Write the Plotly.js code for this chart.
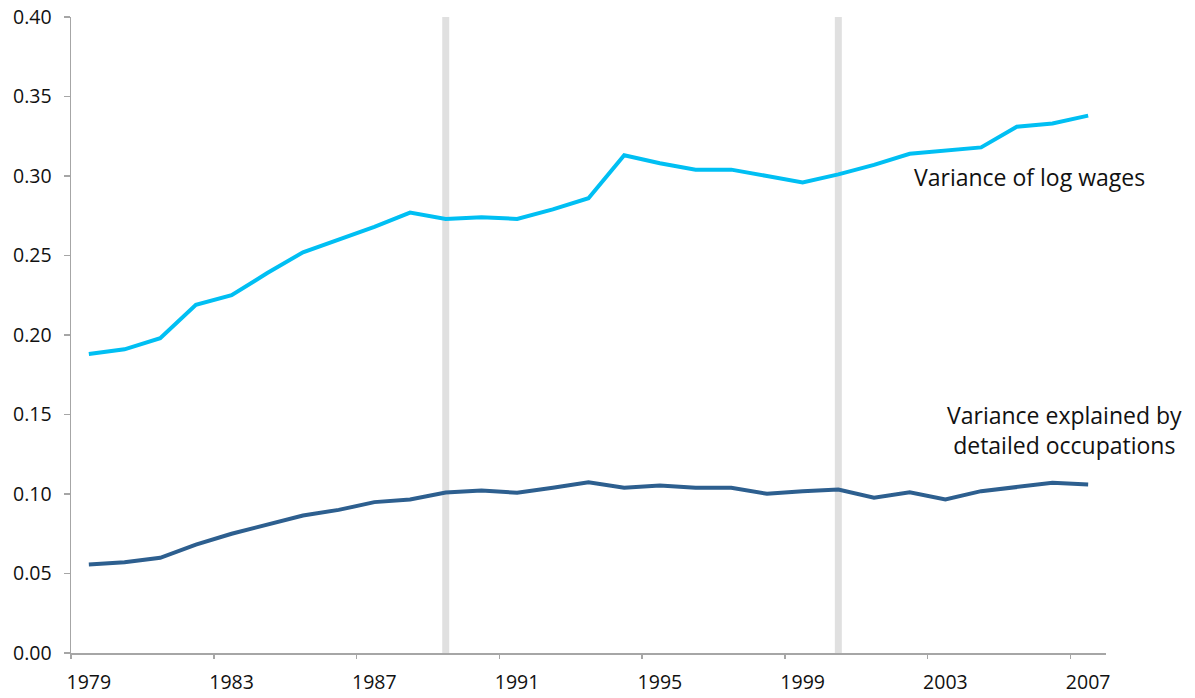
<!DOCTYPE html>
<html>
<head>
<meta charset="utf-8">
<script src="https://cdn.plot.ly/plotly-3.0.1.min.js"></script>
<style>html,body{margin:0;padding:0;background:#fff;}#chart{width:1195px;height:698px;}</style>
</head>
<body>
<div id="chart"></div>
<script>
const years = [1979,1980,1981,1982,1983,1984,1985,1986,1987,1988,1989,1990,1991,1992,1993,1994,1995,1996,1997,1998,1999,2000,2001,2002,2003,2004,2005,2006,2007];
const varianceLogWages = [0.188,0.191,0.198,0.219,0.225,0.239,0.252,0.260,0.268,0.277,0.273,0.274,0.273,0.279,0.286,0.313,0.308,0.304,0.304,0.300,0.296,0.301,0.307,0.314,0.316,0.318,0.331,0.333,0.338];
const varianceOccupations = [0.0557,0.0571,0.0599,0.0682,0.0750,0.0808,0.0865,0.0900,0.0949,0.0965,0.1009,0.1022,0.1008,0.1039,0.1074,0.1039,0.1053,0.1039,0.1039,0.1001,0.1018,0.1028,0.0976,0.1011,0.0965,0.1018,0.1047,0.1070,0.1060];
const cycleYears = [1989, 2000];
const xTickLabels = [1979,1983,1987,1991,1995,1999,2003,2007];
const yTicks = [0,0.05,0.10,0.15,0.20,0.25,0.30,0.35,0.40];

const FONT = '"Open Sans", "Noto Sans", sans-serif';
const AXIS_COLOR = '#a6a6a6';
const TEXT_COLOR = '#111111';

const traces = [
  {x: years, y: varianceLogWages, type: 'scatter', mode: 'lines', name: 'Variance of log wages',
   line: {color: '#00bff3', width: 4}, hoverinfo: 'x+y'},
  {x: years, y: varianceOccupations, type: 'scatter', mode: 'lines', name: 'Variance explained by detailed occupations',
   line: {color: '#2d5f8f', width: 4}, hoverinfo: 'x+y'}
];

const shapes = cycleYears.map(yr => ({
  type: 'line', xref: 'x', yref: 'paper', x0: yr, x1: yr, y0: 0, y1: 1,
  line: {color: '#e0e0e0', width: 7}, layer: 'below'
}));

const layout = {
  width: 1195, height: 698,
  margin: {l: 71, r: 89, t: 17, b: 45},
  paper_bgcolor: '#ffffff', plot_bgcolor: '#ffffff',
  showlegend: false,
  font: {family: FONT, size: 19, color: TEXT_COLOR},
  xaxis: {
    range: [years[0] - 0.5, years[years.length - 1] + 0.5],
    tickvals: xTickLabels, ticktext: xTickLabels.map(String),
    ticks: '', showgrid: false, zeroline: false,
    showline: true, linecolor: AXIS_COLOR, linewidth: 1.5,
    tickfont: {family: FONT, size: 19.5, color: TEXT_COLOR},
    ticklabelstandoff: 11
  },
  xaxis2: {
    overlaying: 'x', anchor: 'y', side: 'bottom',
    range: [years[0] - 0.5, years[years.length - 1] + 0.5],
    tickvals: xTickLabels.map(v => v - 0.5),
    showticklabels: false, ticks: 'outside', ticklen: 5, tickwidth: 1.5, tickcolor: AXIS_COLOR,
    showgrid: false, zeroline: false, showline: false
  },
  yaxis: {
    range: [0, 0.40], tickvals: yTicks, ticktext: yTicks.map(v => v.toFixed(2)),
    ticks: 'outside', ticklen: 6, tickwidth: 1.5, tickcolor: AXIS_COLOR,
    showgrid: false, zeroline: false,
    showline: true, linecolor: AXIS_COLOR, linewidth: 1.5,
    tickfont: {family: FONT, size: 19.5, color: TEXT_COLOR},
    ticklabelstandoff: 8
  },
  shapes: shapes,
  annotations: [
    {x: 2002.06, y: 0.2992, xref: 'x', yref: 'y', xanchor: 'left', yanchor: 'middle',
     text: 'Variance of log wages', showarrow: false, font: {family: FONT, size: 23, color: TEXT_COLOR}},
    {x: 2006.35, y: 0.1405, xref: 'x', yref: 'y', xanchor: 'center', yanchor: 'middle', align: 'center',
     text: 'Variance explained by<br>detailed occupations', showarrow: false,
     font: {family: FONT, size: 23, color: TEXT_COLOR}}
  ]
};

// helper trace so that xaxis2 (boundary tick marks) is drawn
traces.push({x: [years[0]], y: [null], xaxis: 'x2', type: 'scatter', mode: 'lines', hoverinfo: 'skip', showlegend: false});

Plotly.newPlot('chart', traces, layout, {displayModeBar: false, staticPlot: true});
</script>
</body>
</html>
